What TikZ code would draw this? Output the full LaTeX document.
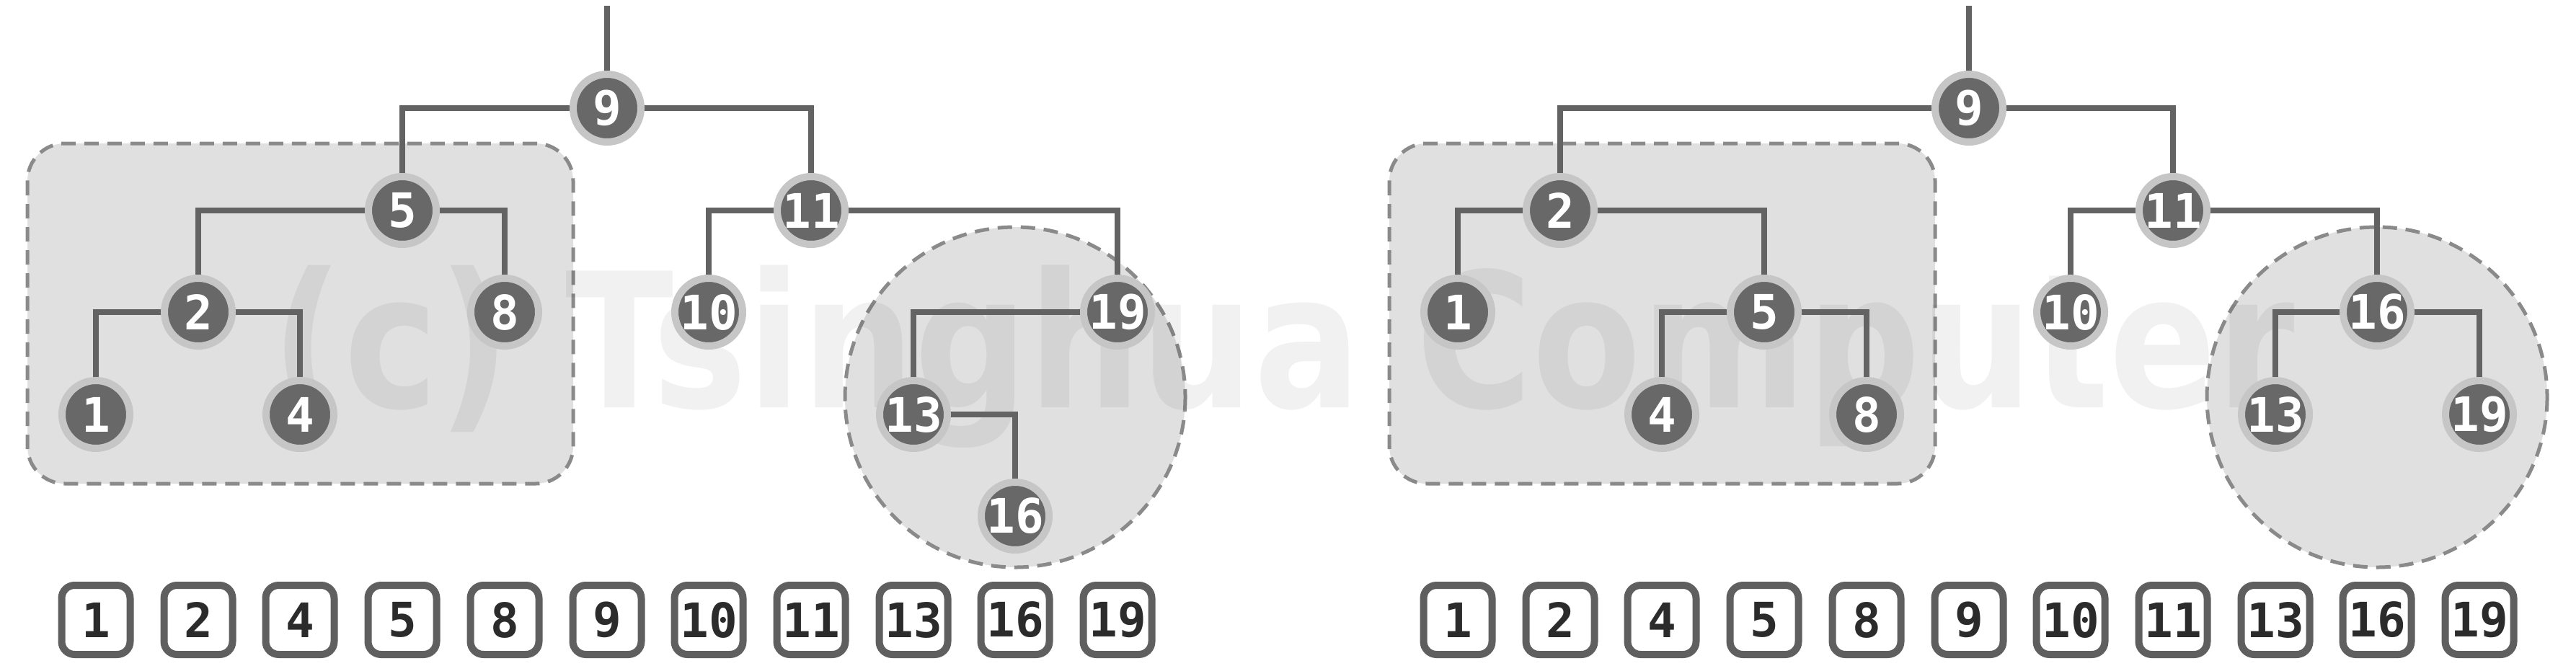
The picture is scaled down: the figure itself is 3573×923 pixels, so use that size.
\documentclass[tikz,border=0pt]{standalone}
\usepackage{graphicx}
\usepackage{fontspec}
\newfontfamily\digitfont{DejaVu Sans Mono}
\newfontfamily\wmfont{DejaVu Sans}
\definecolor{edgegray}{HTML}{636363}
\definecolor{nodedark}{HTML}{686868}
\definecolor{ringgray}{HTML}{C6C6C6}
\definecolor{regionfill}{HTML}{E0E0E0}
\definecolor{regionborder}{HTML}{8A8A8A}
\definecolor{boxborder}{HTML}{5F5F5F}
\definecolor{boxtext}{HTML}{2B2B2B}
\newcommand\nt[1]{\makebox[0pt]{\textcolor{white}{#1}}}
\newcommand\bt[1]{\makebox[0pt]{\textcolor{boxtext}{#1}}}
\pgfdeclarelayer{paperlayer}
\pgfdeclarelayer{regionlayer}
\pgfdeclarelayer{marklayer}
\pgfdeclarelayer{edgelayer}
\pgfsetlayers{paperlayer,regionlayer,marklayer,edgelayer,main}
\tikzset{
  treenode/.style={circle, fill=nodedark, draw=ringgray, line width=2.5pt,
    minimum size=23.5pt, inner sep=0pt,
    font=\digitfont\bfseries\fontsize{16.5pt}{18pt}\selectfont},
  keybox/.style={draw=boxborder, fill=white, line width=2.5pt,
    rounded corners=4.5pt, minimum width=23.75pt, minimum height=24pt,
    inner sep=0pt, font=\digitfont\bfseries\fontsize{16.5pt}{18pt}\selectfont},
  edge/.style={draw=edgegray, line width=2pt},
  region/.style={fill=regionfill, draw=regionborder, line width=1.25pt,
    dash pattern=on 5pt off 3pt},
}
\begin{document}
\begin{tikzpicture}[x=0.25pt, y=-0.25pt]
\useasboundingbox (0,0) rectangle (3573,923);
\begin{pgfonlayer}{paperlayer}
  \fill[white] (0,0) rectangle (3573,923);
\end{pgfonlayer}

% ---------- left tree ----------
\node[treenode] (a9)  at (842,150) {\nt{9}};
\node[treenode] (a5)  at (558,292) {\nt{5}};
\node[treenode] (a11) at (1125,292) {\nt{11}};
\node[treenode] (a2)  at (275,433) {\nt{2}};
\node[treenode] (a8)  at (700,433) {\nt{8}};
\node[treenode] (a10) at (983,433) {\nt{10}};
\node[treenode] (a19) at (1550,433) {\nt{19}};
\node[treenode] (a1)  at (133,575) {\nt{1}};
\node[treenode] (a4)  at (416,575) {\nt{4}};
\node[treenode] (a13) at (1267,575) {\nt{13}};
\node[treenode] (a16) at (1408,716) {\nt{16}};
\coordinate (atop) at (842,8);

% ---------- right tree ----------
\node[treenode] (b9)  at (2731,150) {\nt{9}};
\node[treenode] (b2)  at (2164,292) {\nt{2}};
\node[treenode] (b11) at (3014,292) {\nt{11}};
\node[treenode] (b1)  at (2022,433) {\nt{1}};
\node[treenode] (b5)  at (2447,433) {\nt{5}};
\node[treenode] (b10) at (2872,433) {\nt{10}};
\node[treenode] (b16) at (3297,433) {\nt{16}};
\node[treenode] (b4)  at (2305,575) {\nt{4}};
\node[treenode] (b8)  at (2589,575) {\nt{8}};
\node[treenode] (b13) at (3156,575) {\nt{13}};
\node[treenode] (b19) at (3439,575) {\nt{19}};
\coordinate (btop) at (2731,8);

% ---------- sorted keys ----------
\foreach \k/\x in {1/133,2/275,4/416,5/558,8/700,9/842,10/983,11/1125,13/1267,16/1408,19/1550}{
  \node[keybox] (ka\k) at (\x,860) {\bt{\k}};
}
\foreach \k/\x in {1/2022,2/2164,4/2305,5/2447,8/2589,9/2731,10/2872,11/3014,13/3156,16/3297,19/3439}{
  \node[keybox] (kb\k) at (\x,860) {\bt{\k}};
}

% ---------- regions ----------
\begin{pgfonlayer}{regionlayer}
  \draw[region, rounded corners=13pt] (38,199) rectangle (795,671);
  \draw[region] (1408,551) circle[radius=236];
  \draw[region, rounded corners=13pt] (1927,199) rectangle (2684,671);
  \draw[region] (3297,551) circle[radius=236];
\end{pgfonlayer}

% ---------- watermark ----------
\begin{pgfonlayer}{marklayer}
  \node[anchor=base west, inner sep=0pt, text=black, text opacity=0.055] (wm) at (376,565)
    {\wmfont\bfseries\fontsize{65pt}{70pt}\selectfont\scalebox{0.846}[1]{(c) Tsinghua Computer}};
\end{pgfonlayer}

% ---------- edges ----------
\begin{pgfonlayer}{edgelayer}
  \draw[edge] (atop) -- (a9);
  \draw[edge] (a9) -| (a5);
  \draw[edge] (a9) -| (a11);
  \draw[edge] (a5) -| (a2);
  \draw[edge] (a5) -| (a8);
  \draw[edge] (a2) -| (a1);
  \draw[edge] (a2) -| (a4);
  \draw[edge] (a11) -| (a10);
  \draw[edge] (a11) -| (a19);
  \draw[edge] (a19) -| (a13);
  \draw[edge] (a13) -| (a16);

  \draw[edge] (btop) -- (b9);
  \draw[edge] (b9) -| (b2);
  \draw[edge] (b9) -| (b11);
  \draw[edge] (b2) -| (b1);
  \draw[edge] (b2) -| (b5);
  \draw[edge] (b5) -| (b4);
  \draw[edge] (b5) -| (b8);
  \draw[edge] (b11) -| (b10);
  \draw[edge] (b11) -| (b16);
  \draw[edge] (b16) -| (b13);
  \draw[edge] (b16) -| (b19);
\end{pgfonlayer}
\end{tikzpicture}
\end{document}
